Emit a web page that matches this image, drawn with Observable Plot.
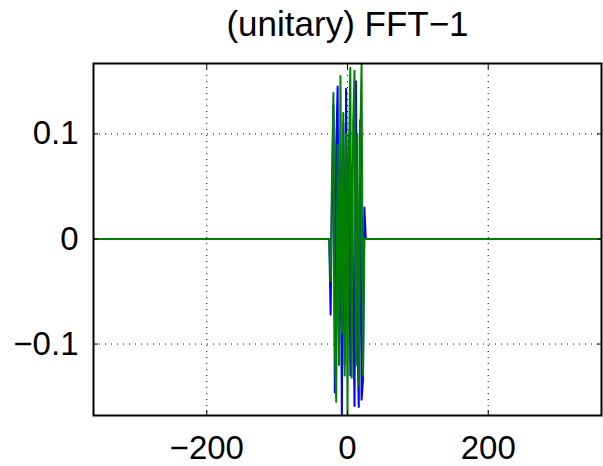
<!DOCTYPE html>
<html>
<head>
<meta charset="utf-8">
<script src="https://cdn.jsdelivr.net/npm/d3@7"></script>
<script src="https://cdn.jsdelivr.net/npm/@observablehq/plot@0.6"></script>
<style>
  html, body { margin: 0; padding: 0; background: white; }
  #chart { width: 603px; height: 466px; }
</style>
</head>
<body>
<div id="chart"></div>
<script>
const titleText = "(unitary) FFT\u22121";
const xTicks = [-200, 0, 200];
const yTicks = [-0.1, 0, 0.1];

// sample positions (flat zero tails at both ends)
const xs = [-361, -26, -24, -22, -20, -18, -16, -14, -12, -10, -8, -6, -4, -2, 0,
  2, 4, 6, 8, 10, 12, 14, 16, 18, 20, 22, 24, 26, 361];

// blue series (real part)
const blueVals = [0, 0, -0.072, 0.04, 0.127, -0.146, 0.09, 0.145, -0.10, 0.06, -0.167,
  0.11, -0.12, 0.143, -0.08, 0.10, -0.13, 0.07, -0.05, -0.159, 0.15, -0.09, -0.16,
  0.113, -0.153, -0.134, 0.03, 0, 0];

// green series (imaginary part)
const greenVals = [0, 0, -0.04, 0.06, 0.139, -0.10, -0.155, 0.09, -0.12, 0.155, -0.09,
  0.12, -0.13, 0.10, -0.167, 0.08, 0.163, -0.132, 0.11, 0.16, -0.12, 0.10, -0.14,
  0.09, 0.167, -0.13, 0, 0, 0];

const blue = xs.map((x, i) => ({x, y: blueVals[i]}));
const green = xs.map((x, i) => ({x, y: greenVals[i]}));

const chart = Plot.plot({
  width: 603,
  height: 466,
  marginLeft: 93,
  marginRight: 2,
  marginTop: 63,
  marginBottom: 51,
  style: {fontFamily: "'Liberation Sans', Arial, Helvetica, sans-serif", fontSize: "33px", background: "white", color: "black"},
  x: {domain: [-361, 361]},
  y: {domain: [-0.168, 0.167]},
  marks: [
    Plot.gridX(xTicks, {stroke: "black", strokeOpacity: 1, strokeDasharray: "1,5"}),
    Plot.gridY(yTicks, {stroke: "black", strokeOpacity: 1, strokeDasharray: "1,5"}),
    Plot.line(blue, {x: "x", y: "y", stroke: "#0000ff", strokeWidth: 2, clip: true}),
    Plot.line(green, {x: "x", y: "y", stroke: "#008000", strokeWidth: 2, clip: true}),
    Plot.frame({stroke: "black", strokeWidth: 2}),
    Plot.axisX(xTicks, {anchor: "bottom", tickSize: -5, tickPadding: 25, label: null, fontSize: 33}),
    Plot.axisX(xTicks, {anchor: "top", tickSize: -5, tickFormat: () => "", label: null}),
    Plot.axisY(yTicks, {anchor: "left", tickSize: -5, tickPadding: 20, label: null, fontSize: 33, tickFormat: "~g"}),
    Plot.axisY(yTicks, {anchor: "right", tickSize: -5, tickFormat: () => "", label: null}),
    Plot.text([titleText], {frameAnchor: "top", dy: -28, lineAnchor: "bottom", fontSize: 35, text: d => d})
  ]
});
document.getElementById("chart").appendChild(chart);
</script>
</body>
</html>
